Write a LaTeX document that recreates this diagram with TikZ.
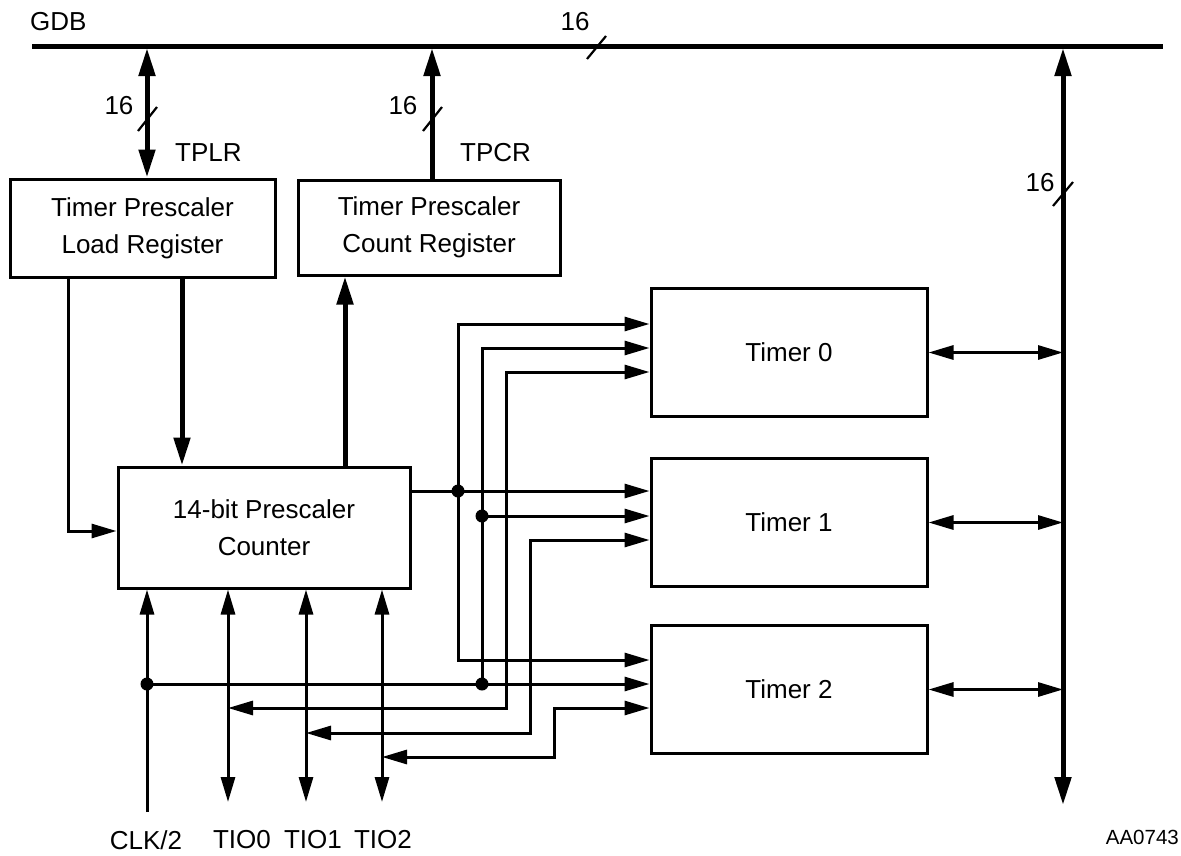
\documentclass[tikz,border=0pt]{standalone}
\usepackage{fontspec}
\setmainfont{Liberation Sans}
\usetikzlibrary{arrows.meta}
\tikzset{
  stip/.tip={Triangle[length=25pt,width=14pt]},
  btip/.tip={Triangle[length=28pt,width=16pt]}
}
\begin{document}
\begin{tikzpicture}[x=1pt,y=-1pt,
  box/.style={draw, line width=3pt, align=center, inner sep=0pt, font=\fontsize{26}{37}\selectfont},
  lbl/.style={font=\fontsize{26}{30}\selectfont, inner sep=0pt},
  wire/.style={line width=3pt},
  thick wire/.style={line width=5pt},
  dot/.style={circle, fill=black, inner sep=0pt, minimum size=13pt},
  slash/.style={line width=2.2pt}
]
\useasboundingbox (0,0) rectangle (1181,855);

% boxes
\node[box, minimum width=265pt, minimum height=98pt] (tplr) at (142.5,228) {Timer Prescaler\\Load Register};
\node[box, minimum width=262pt, minimum height=95pt] (tpcr) at (429,227.5) {Timer Prescaler\\Count Register};
\node[box, minimum width=292pt, minimum height=121pt] (cnt) at (264,527.5) {14-bit Prescaler\\Counter};
\node[box, minimum width=276pt, minimum height=128pt] (t0) at (789,352.5) {Timer 0};
\node[box, minimum width=276pt, minimum height=128pt] (t1) at (789,522.5) {Timer 1};
\node[box, minimum width=276pt, minimum height=128pt] (t2) at (789,689.5) {Timer 2};

% labels
\node[lbl, anchor=west] (gdb) at (30,22) {GDB};
\node[lbl] (b16) at (575,22) {16};
\node[lbl] (l16a) at (119,106) {16};
\node[lbl] (l16b) at (403,106) {16};
\node[lbl] (l16c) at (1040,183) {16};
\node[lbl, anchor=west] (tplrl) at (175,153) {TPLR};
\node[lbl, anchor=west] (tpcrl) at (460,153) {TPCR};
\node[lbl] (clk) at (146,840) {CLK/2};
\node[lbl] (tio0) at (242,840) {TIO0};
\node[lbl] (tio1) at (313,840) {TIO1};
\node[lbl] (tio2) at (383,840) {TIO2};
\node[font=\fontsize{20.5}{24}\selectfont, inner sep=0pt, anchor=east] (aa) at (1179,837) {AA0743};

% coordinates
\coordinate (busL) at (32,46);
\coordinate (busR) at (1163,46);
\coordinate (busA) at (147,48);
\coordinate (busB) at (432,48);
\coordinate (busC) at (1063,48);
\coordinate (busCend) at (1063,805);
\coordinate (clkend) at (147,812);
\coordinate (tio0end) at (228,802);
\coordinate (tio1end) at (306,802);
\coordinate (tio2end) at (382,802);

% GDB bus
\draw[thick wire] (busL) -- (busR);
\draw[slash] (587,59) -- (606,36);

% TPLR / TPCR links
\draw[thick wire, {btip}-{btip}] (busA) -- (busA |- tplr.north);
\draw[slash] (138,131) -- (157,107);
\draw[thick wire, -{btip}] (busB |- tpcr.north) -- (busB);
\draw[slash] (423,131) -- (442,107);

% right bus
\draw[thick wire, {btip}-{btip}] (busC) -- (busCend);
\draw[slash] (1053,206) -- (1073,182);

% timer to bus
\draw[wire, {stip}-{stip}] (t0.east) -- (t0.east -| busC);
\draw[wire, {stip}-{stip}] (t1.east) -- (t1.east -| busC);
\draw[wire, {stip}-{stip}] (t2.east) -- (t2.east -| busC);

% TPLR -> counter, counter -> TPCR
\coordinate (xa) at (182,0);
\coordinate (xb) at (345,0);
\draw[thick wire, -{btip}] (tplr.south -| xa) -- (cnt.north -| xa);
\draw[thick wire, -{btip}] (cnt.north -| xb) -- (tpcr.south -| xb);
\coordinate (lcorner) at (68,531);
\draw[wire, -{stip}] (tplr.south -| lcorner) -- (lcorner) -- (lcorner -| cnt.west);

% counter output distribution
\coordinate (j1) at (458,491);
\coordinate (j1t) at (458,324);
\coordinate (j1b) at (458,660);
\draw[wire, -{stip}] (cnt.east |- j1) -- (j1 -| t1.west);
\draw[wire, -{stip}] (j1) -- (j1t) -- (j1t -| t0.west);
\draw[wire, -{stip}] (j1) -- (j1b) -- (j1b -| t2.west);
\node[dot] (d1) at (j1) {};

% CLK/2 distribution
\coordinate (c1) at (147,684);
\coordinate (c2) at (482,684);
\coordinate (c3) at (482,516);
\coordinate (c4) at (482,348);
\draw[wire, -{stip}] (clkend) -- (clkend |- cnt.south);
\draw[wire, -{stip}] (c1) -- (c1 -| t2.west);
\draw[wire, -{stip}] (c2) -- (c4) -- (c4 -| t0.west);
\draw[wire, -{stip}] (c3) -- (c3 -| t1.west);
\node[dot] (dc1) at (c1) {};
\node[dot] (dc2) at (c2) {};
\node[dot] (dc3) at (c3) {};

% TIO lines
\draw[wire, {stip}-{stip}] (tio0end |- cnt.south) -- (tio0end);
\draw[wire, {stip}-{stip}] (tio1end |- cnt.south) -- (tio1end);
\draw[wire, {stip}-{stip}] (tio2end |- cnt.south) -- (tio2end);

\coordinate (a1) at (506,708);
\coordinate (a2) at (506,372);
\draw[wire, {stip}-{stip}] (a1 -| tio0end) -- (a1) -- (a2) -- (a2 -| t0.west);
\coordinate (b1) at (530,733);
\coordinate (b2) at (530,540);
\draw[wire, {stip}-{stip}] (b1 -| tio1end) -- (b1) -- (b2) -- (b2 -| t1.west);
\coordinate (e1) at (554,757);
\coordinate (e2) at (554,708);
\draw[wire, {stip}-{stip}] (e1 -| tio2end) -- (e1) -- (e2) -- (e2 -| t2.west);
\end{tikzpicture}
\end{document}
